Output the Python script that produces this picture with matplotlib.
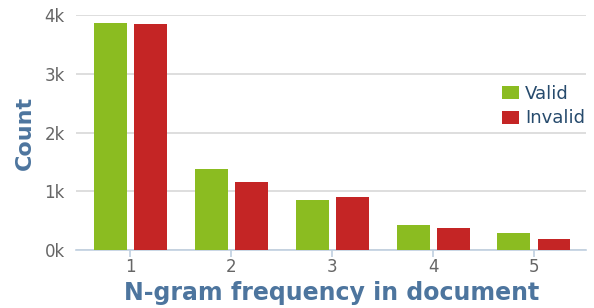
import matplotlib
matplotlib.use('Agg')
import matplotlib.pyplot as plt
from matplotlib.patches import Patch
import numpy as np

categories = ['1', '2', '3', '4', '5']
valid = [3865, 1390, 855, 425, 290]
invalid = [3845, 1165, 910, 375, 190]
yticks = [0, 1000, 2000, 3000, 4000]
ytick_labels = ['0k', '1k', '2k', '3k', '4k']

green = '#8bbc21'
red = '#c42525'

fig = plt.figure(figsize=(5.94, 3.08), dpi=100)
ax = fig.add_axes([0.128, 0.188, 0.859, 0.762])

x = np.arange(1, len(categories) + 1)
w = 0.327
ax.bar(x - 0.197, valid, width=w, color=green, label='Valid', zorder=3)
ax.bar(x + 0.2, invalid, width=w, color=red, label='Invalid', zorder=3)

ax.set_xlim(0.46, 5.52)
ax.set_ylim(0, 4000)
ax.set_xticks(x)
ax.set_xticklabels(categories)
ax.set_yticks(yticks)
ax.set_yticklabels(ytick_labels)
ax.yaxis.grid(True, color='#d8d8d8', linewidth=1.2, zorder=0)

for loc, spine in ax.spines.items():
    if loc == 'bottom':
        spine.set_color('#c0d0e0')
        spine.set_linewidth(1.2)
    else:
        spine.set_visible(False)

ax.tick_params(axis='x', colors='#c0d0e0', length=5, width=1.2, labelcolor='#666666', labelsize=12, pad=1)
ax.tick_params(axis='y', length=0, labelcolor='#666666', labelsize=12, pad=8)

ax.set_ylabel('Count', fontsize=16, fontweight='bold', color='#4d759e', labelpad=7)
ax.set_xlabel('N-gram frequency in document', fontsize=17, fontweight='bold', color='#4d759e', labelpad=3)

handles = [Patch(facecolor=green, edgecolor='none', label='Valid'),
           Patch(facecolor=red, edgecolor='none', label='Invalid')]
leg = ax.legend(handles=handles, loc='upper left', bbox_to_anchor=(0.834, 0.705), frameon=False,
                fontsize=13, handlelength=0.95, handleheight=0.75, handletextpad=0.35,
                labelspacing=0.38, borderaxespad=0, borderpad=0)
for t in leg.get_texts():
    t.set_color('#274b6d')

fig.savefig('out.png', dpi=100)
